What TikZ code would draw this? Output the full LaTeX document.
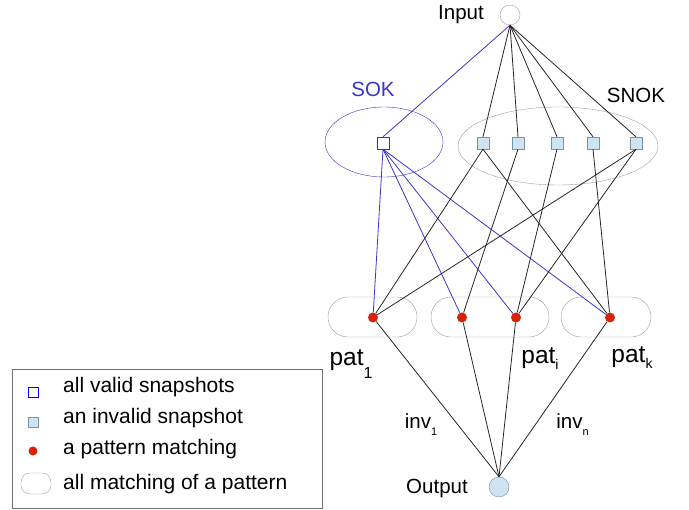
\documentclass[tikz,border=0pt]{standalone}
\usepackage{fontspec}
\setmainfont{Liberation Sans}
\usetikzlibrary{shapes.geometric}
\definecolor{okblue}{RGB}{55,55,205}
\definecolor{okrim}{RGB}{60,60,140}
\definecolor{nokfill}{RGB}{205,228,242}
\definecolor{nokrim}{RGB}{125,145,165}
\definecolor{hitred}{RGB}{215,35,10}
\definecolor{rim}{RGB}{160,160,160}
% lowered index: [drop]{size}{text}
\newcommand{\lowsub}[3][6pt]{\raisebox{-#1}{\fontsize{#2}{#2}\selectfont #3}}
\tikzset{
  okbox/.style={draw=okrim, fill=white, minimum size=12pt, inner sep=0pt},
  nokbox/.style={draw=nokrim, fill=nokfill, minimum size=12pt, inner sep=0pt},
  hit/.style={circle, fill=hitred, minimum size=10pt, inner sep=0pt},
  patbag/.style={draw=rim, rounded corners=20pt, minimum height=40pt, inner sep=0pt},
  port/.style={circle, draw=rim, minimum size=20pt, inner sep=0pt},
  txt/.style={anchor=base, inner sep=0pt, font=\fontsize{20.5}{24}\selectfont},
  bigtxt/.style={anchor=base, inner sep=0pt, font=\fontsize{24.5}{28}\selectfont},
  legtxt/.style={anchor=base west, inner sep=0pt, font=\fontsize{21}{24}\selectfont},
  okline/.style={okblue, line width=0.8pt},
  nokline/.style={black!85, line width=0.8pt}
}
\begin{document}
\begin{tikzpicture}[x=1pt,y=-1pt]
\useasboundingbox (0,0) rectangle (689,510);
% the two sets of snapshots
\node[ellipse, draw=okblue, minimum width=118pt, minimum height=70pt] (sok) at (384,142) {};
\node[ellipse, draw=rim, minimum width=200pt, minimum height=78pt] (snok) at (558,146) {};
% one bag per pattern
\node[patbag, minimum width=89pt] (bag1) at (372.5,317) {};
\node[patbag, minimum width=118pt] (bag2) at (490,317) {};
\node[patbag, minimum width=90pt] (bag3) at (606,317) {};

\node[port] (in) at (510,15) {};
\node[port, draw=nokrim, fill=nokfill] (out) at (499,487) {};
\node[okbox] (s0) at (383,143) {};
\foreach \x [count=\i] in {483,518,557,593,636}
  \node[nokbox] (s\i) at (\x,143) {};
\foreach \x [count=\i] in {373,462,516,610}
  \node[hit] (p\i) at (\x,317.5) {};

% input to snapshots
\draw[okline] (in.south) -- (s0.north);
\foreach \i in {1,...,5}
  \draw[nokline] (in.south) -- (s\i.north);
% snapshots to matchings
\foreach \j in {1,...,4}
  \draw[okline] (s0.south) -- (p\j);
\foreach \i/\j in {1/1,1/4,2/2,3/3,4/4,5/1,5/3}
  \draw[nokline] (s\i.south) -- (p\j);
% matchings to output
\foreach \j in {1,...,4}
  \draw[nokline] (p\j) -- (out.north);

\node[txt] (inlbl) at (461,20) {Input};
\node[txt, okblue] (soklbl) at (373,97) {SOK};
\node[txt] (snoklbl) at (636,103) {SNOK};
\node[bigtxt] (pat1) at (351,366) {pat\lowsub[13pt]{16}{1}};
\node[bigtxt] (pati) at (540,364) {pat\lowsub{14}{i}};
\node[bigtxt] (patk) at (632,363) {pat\lowsub{14}{k}};
\node[txt] (inv1) at (421,429) {inv\lowsub[7pt]{11}{1}};
\node[txt] (invn) at (572.5,429) {inv\lowsub[7pt]{11}{n}};
\node[txt] (outlbl) at (437,494) {Output};

% legend
\node[draw=rim!70!black, anchor=north west, minimum width=310pt, minimum height=139pt, inner sep=0pt] (legend) at (12,369) {};
\node[okbox, draw=blue, minimum size=10pt] (k1) at (33,392) {};
\node[nokbox, minimum size=10pt] (k2) at (33,422) {};
\node[hit, minimum size=9pt] (k3) at (33,451) {};
\node[patbag, minimum width=30pt, minimum height=21pt, rounded corners=9pt] (k4) at (36,483.5) {};
\node[legtxt] (t1) at (63,393) {all valid snapshots};
\node[legtxt] (t2) at (63,424) {an invalid snapshot};
\node[legtxt] (t3) at (63,455) {a pattern matching};
\node[legtxt] (t4) at (63,490) {all matching of a pattern};
\end{tikzpicture}
\end{document}
